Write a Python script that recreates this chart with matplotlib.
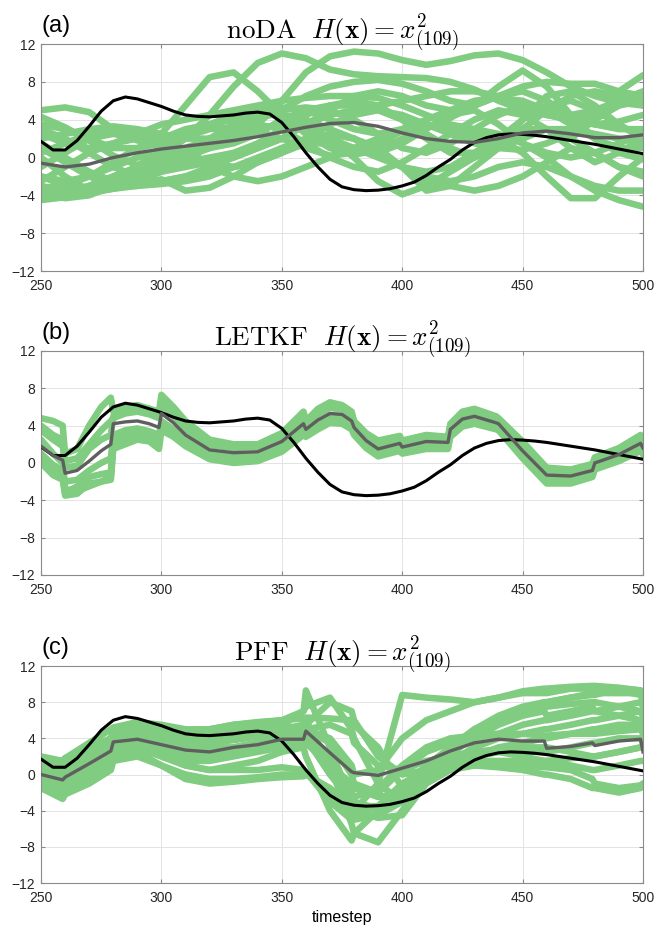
import numpy as np
import matplotlib
matplotlib.use("Agg")
import matplotlib.pyplot as plt

plt.rcParams.update({
    "font.family": ["Liberation Sans", "DejaVu Sans"],
    "mathtext.fontset": "cm",
})

# ── Data ──────────────────────────────────────────────────────────────────
# truth, every 5 timesteps from 250 to 500
truth_t = np.arange(250, 501, 5)
truth = [1.7, 0.8, 0.8, 1.8, 3.3, 4.9, 6.0, 6.4, 6.2, 5.8, 5.4, 4.9, 4.5, 4.35, 4.3,
         4.4, 4.5, 4.7, 4.8, 4.6, 3.7, 2.2, 0.5, -1.0, -2.3, -3.1, -3.4, -3.5, -3.45,
         -3.3, -3.0, -2.6, -1.9, -1.0, -0.2, 0.8, 1.6, 2.1, 2.4, 2.5, 2.45, 2.35, 2.2,
         2.0, 1.8, 1.6, 1.4, 1.15, 0.9, 0.65, 0.4]

# panel (a): noDA, every 10 timesteps
a_t = np.arange(250, 501, 10)
a_mean = [-0.6, -1.0, -0.7, 0.0, 0.5, 0.9, 1.2, 1.5, 1.8, 2.2, 2.7, 3.2, 3.6, 3.7,
          3.3, 2.6, 2.0, 1.7, 1.6, 2.0, 2.6, 2.8, 2.5, 2.1, 2.1, 2.4]
a_members = [
    [5.0, 5.3, 4.8, 3.0, 1.8, 1.5, 2.2, 3.0, 3.2, 2.8, 2.0, 1.0, 0.2, 0.5, 1.5, 2.8, 3.5, 3.0, 2.0, 1.0, 0.8, 1.5, 2.5, 4.0, 5.5, 6.0],
    [4.3, 3.2, 1.8, 0.2, -0.8, 0.3, 2.0, 4.5, 7.5, 10.0, 11.0, 10.5, 9.3, 8.8, 8.6, 8.5, 8.4, 8.0, 7.2, 6.0, 5.0, 4.5, 4.0, 3.5, 3.8, 4.5],
    [2.5, 1.5, 1.0, 1.5, 2.0, 2.5, 5.5, 8.5, 9.0, 7.0, 4.5, 2.5, 1.0, 0.3, 0.8, 2.0, 3.2, 4.2, 5.5, 7.5, 9.2, 7.5, 4.5, 2.0, 0.5, -0.2],
    [-2.0, -2.5, -2.0, -1.0, 0.0, 0.5, 0.5, 1.0, 2.0, 3.5, 6.0, 9.0, 10.7, 11.2, 11.0, 10.3, 9.8, 10.2, 10.8, 11.0, 10.3, 9.0, 7.5, 6.5, 5.8, 5.5],
    [-3.5, -3.8, -3.0, -2.0, -1.0, 0.0, 1.0, 2.0, 3.0, 4.0, 5.0, 6.5, 7.5, 8.0, 8.2, 7.8, 7.0, 6.0, 5.5, 6.5, 7.5, 8.0, 7.8, 7.8, 7.0, 6.5],
    [0.5, 1.5, 2.5, 3.0, 2.5, 1.5, 0.5, -0.5, -1.0, -0.5, 0.5, 2.0, 3.5, 4.5, 5.0, 4.5, 3.5, 2.5, 1.5, 1.0, 2.0, 3.0, 2.0, 4.0, 7.0, 8.7],
    [-4.2, -4.0, -3.5, -2.5, -1.5, -0.5, 0.5, 1.5, 2.5, 3.0, 3.5, 3.0, 2.0, 1.0, 0.5, 1.5, 3.0, 4.5, 5.0, 3.5, 1.5, 0.0, -2.0, -3.5, -4.5, -5.2],
    [-1.0, 0.5, 2.0, 2.5, 2.0, 1.0, 0.0, -1.0, -2.0, -2.5, -2.0, -1.0, 0.0, 1.0, 2.0, 3.0, 3.5, 3.0, 2.5, 2.0, 0.5, -2.0, -4.3, -4.3, -2.0, 0.0],
    [2.0, 2.5, 3.0, 3.3, 3.0, 2.5, 2.0, 2.0, 2.5, 3.0, 3.5, 3.5, 2.0, 0.0, -2.5, -3.9, -3.0, -1.5, 0.0, 1.5, 2.5, 3.0, 3.0, 2.5, 2.0, 1.5],
    [-3.0, -3.5, -3.0, -2.0, -1.0, 0.0, 0.5, 1.0, 1.5, 2.5, 4.0, 5.0, 5.5, 5.5, 5.0, 4.0, 2.5, 1.0, 0.0, 1.0, 3.0, 5.0, 6.5, 7.0, 6.5, 5.5],
    [-4.5, -4.2, -3.8, -3.3, -2.8, -2.3, -3.5, -3.2, -2.0, -0.5, 1.0, 2.0, 2.5, 2.0, 0.5, -1.0, -2.0, -2.5, -2.0, -1.0, -0.5, -1.0, -2.0, -3.0, -3.5, -3.5],
    [-3.8, -4.3, -4.0, -3.0, -2.0, -1.5, -1.0, -0.5, 0.0, 1.0, 2.0, 3.5, 4.5, 5.0, 5.5, 6.0, 6.5, 7.0, 7.0, 6.5, 5.5, 4.5, 4.0, 4.5, 5.5, 6.8],
    [-2.5, -1.0, 0.5, 1.5, 2.5, 3.5, 4.0, 4.5, 5.0, 5.5, 6.0, 6.3, 6.5, 6.5, 6.3, 5.5, 4.5, 3.5, 3.0, 2.5, 1.5, 0.5, 0.0, 0.5, 1.5, 2.5],
    [1.0, -0.5, -2.0, -3.0, -3.0, -2.5, -2.0, -1.5, -1.0, -0.5, 0.5, 1.5, 2.5, 2.0, 0.5, -1.0, -2.5, -3.0, -3.5, -3.0, -2.0, -0.5, 1.0, 0.5, -1.0, -2.0],
    [3.0, 2.0, 0.5, -1.0, -2.0, -2.5, -2.0, -1.0, 0.0, 1.0, 2.0, 3.5, 5.0, 6.5, 7.0, 6.5, 5.5, 5.0, 5.5, 6.5, 7.0, 6.0, 4.5, 3.5, 3.0, 3.0],
    [-3.2, -3.0, -2.0, -0.5, 1.0, 2.0, 3.0, 3.5, 4.0, 4.5, 4.5, 4.0, 3.0, 2.0, 1.0, -1.0, -3.5, -3.0, -1.0, 1.0, 4.0, 6.5, 7.0, 5.5, 3.5, 2.0],
    [0.0, -2.0, -3.5, -3.2, -2.5, -1.5, -0.5, 0.0, 0.5, 1.5, 3.0, 4.5, 5.5, 6.0, 5.5, 4.0, 2.0, 0.5, 0.5, 2.0, 4.0, 5.5, 6.0, 5.0, 3.5, 2.0],
    [-4.0, -3.8, -3.6, -3.3, -3.0, -2.8, -2.5, -2.0, -1.0, 0.0, 1.0, 1.5, 1.5, 1.0, 0.0, -1.0, -1.5, -1.0, 0.5, 2.0, 3.0, 3.0, 2.0, 0.5, -1.0, -1.5],
    [1.5, 0.0, -1.5, -2.5, -2.0, -1.0, 0.5, 2.0, 3.5, 4.5, 5.0, 5.3, 5.0, 4.0, 2.5, 1.0, 0.5, 1.5, 3.0, 4.5, 5.5, 5.0, 3.5, 2.0, 1.0, 1.0],
    [-2.0, -3.0, -3.3, -2.8, -2.0, -1.0, 0.0, 1.0, 2.5, 3.5, 3.0, 1.5, 0.0, -1.0, -1.5, -0.5, 1.0, 2.5, 4.0, 5.0, 4.5, 3.0, 1.0, -0.5, 0.5, 2.0],
    [3.5, 3.0, 2.0, 1.0, 1.0, 1.5, 2.5, 3.5, 4.5, 5.0, 5.3, 5.0, 4.0, 3.0, 2.5, 3.0, 4.0, 5.0, 6.0, 6.3, 6.0, 5.0, 4.5, 5.0, 6.0, 7.0],
]

# panel (b): LETKF, analysis jumps every 20 steps
b_t = [250, 255, 259, 260, 265, 270, 275, 279, 280, 285, 290, 295, 299, 300, 305, 310,
       320, 330, 340, 350, 359, 360, 365, 370, 375, 379, 380, 385, 390, 399, 400, 410,
       419, 420, 425, 430, 439, 440, 450, 460, 470, 479, 480, 490, 499, 500]
b_mean = [1.8, 0.8, 0.3, -1.1, -0.8, 0.2, 1.3, 2.0, 4.2, 4.4, 4.5, 4.2, 3.8, 5.3, 4.3, 3.0,
          1.4, 1.1, 1.2, 2.3, 4.2, 3.6, 4.6, 5.3, 5.2, 4.5, 3.8, 2.4, 1.5, 2.1, 1.7, 2.3,
          2.2, 3.6, 4.7, 5.0, 4.3, 4.2, 1.3, -1.3, -1.4, -0.8, 0.0, 0.9, 2.1, 1.6]
b_members = [
    [4.8, 4.5, 4.0, 1.0, 1.5, 4.0, 6.0, 7.0, 5.5, 6.0, 6.0, 5.8, 5.5, 7.3, 6.0, 4.5,
     2.5, 2.0, 2.0, 3.2, 5.5, 4.5, 5.8, 6.5, 6.2, 5.5, 4.5, 3.2, 2.4, 2.9, 2.4, 3.0,
     2.8, 4.2, 5.5, 5.8, 5.0, 4.8, 2.3, -0.5, -0.7, -0.1, 0.6, 1.6, 3.0, 2.3],
    [0.0, -1.3, -1.8, -3.5, -3.3, -2.2, -2.0, -1.8, 1.5, 2.0, 2.5, 2.3, 1.5, 3.5, 2.8, 1.8,
     0.4, 0.0, 0.2, 1.2, 3.0, 2.8, 3.6, 4.3, 4.2, 3.6, 3.0, 1.6, 0.7, 1.3, 1.0, 1.5,
     1.5, 2.8, 3.9, 4.2, 3.6, 3.5, 0.5, -2.2, -2.2, -1.5, -0.7, 0.2, 1.3, 0.9],
    [3.5, 2.5, 1.8, 0.2, 0.5, 2.0, 3.5, 4.5, 4.8, 5.3, 5.5, 5.2, 4.8, 6.3, 5.0, 3.6,
     1.9, 1.6, 1.7, 2.8, 4.8, 4.0, 5.2, 5.9, 5.7, 5.0, 4.2, 2.8, 2.0, 2.5, 2.1, 2.7,
     2.5, 3.9, 5.1, 5.4, 4.7, 4.5, 1.8, -0.9, -1.0, -0.4, 0.3, 1.3, 2.5, 1.9],
    [1.0, -0.2, -0.8, -2.0, -1.8, -0.8, 0.0, 0.5, 3.0, 3.5, 3.7, 3.4, 3.0, 4.5, 3.6, 2.4,
     0.9, 0.6, 0.7, 1.8, 3.6, 3.2, 4.1, 4.8, 4.7, 4.0, 3.4, 2.0, 1.1, 1.7, 1.4, 1.9,
     1.9, 3.2, 4.3, 4.6, 4.0, 3.9, 0.9, -1.7, -1.8, -1.2, -0.4, 0.5, 1.7, 1.3],
    [2.5, 1.0, 0.0, -2.8, -3.0, -2.5, -2.0, -1.5, 1.8, 2.5, 3.0, 2.8, 2.2, 4.0, 3.5, 2.6,
     1.0, 0.8, 0.9, 2.0, 4.0, 3.4, 4.4, 5.1, 5.0, 4.3, 3.6, 2.2, 1.3, 1.9, 1.5, 2.1,
     2.0, 3.4, 4.5, 4.8, 4.1, 4.0, 1.1, -1.5, -1.6, -1.0, -0.2, 0.7, 1.9, 1.4],
    [4.0, 3.0, 2.5, -0.5, -0.3, 1.5, 2.5, 3.0, 5.0, 6.0, 6.2, 5.8, 5.2, 6.8, 5.5, 4.0,
     2.2, 1.8, 1.9, 3.0, 5.2, 4.2, 5.5, 6.2, 6.0, 5.2, 4.4, 3.0, 2.2, 2.7, 2.2, 2.8,
     2.6, 4.0, 5.3, 5.6, 4.9, 4.6, 2.0, -0.7, -0.8, -0.2, 0.5, 1.5, 2.8, 2.1],
    [0.5, -0.8, -1.5, -3.2, -2.5, -1.5, -1.2, -1.0, 2.5, 3.0, 3.2, 2.9, 2.5, 4.0, 3.2, 2.0,
     0.6, 0.3, 0.4, 1.5, 3.3, 3.0, 3.9, 4.5, 4.4, 3.8, 3.2, 1.8, 0.9, 1.5, 1.2, 1.7,
     1.7, 3.0, 4.1, 4.4, 3.8, 3.7, 0.7, -2.0, -2.0, -1.3, -0.5, 0.4, 1.5, 1.1],
]

# panel (c): PFF
c_t = [250, 259, 260, 270, 279, 280, 290, 300, 310, 320, 330, 340, 350, 359, 360, 370,
       379, 380, 390, 400, 410, 420, 430, 440, 450, 459, 460, 470, 479, 480, 490, 499, 500]
c_mean = [0.0, -0.6, -0.3, 1.2, 2.6, 3.6, 3.9, 3.3, 2.7, 2.5, 3.0, 3.3, 3.9, 3.9, 4.8, 2.4,
          0.3, 0.2, -0.1, 0.7, 1.5, 2.6, 3.5, 3.9, 3.7, 3.7, 2.9, 3.1, 3.5, 3.2, 3.7, 3.9, 2.5]
c_members = [
    [1.5, 1.5, 1.8, 3.5, 5.0, 5.2, 5.8, 5.5, 5.0, 5.0, 5.5, 5.8, 6.0, 7.0, 9.3, 3.0, -3.0, -4.0, -1.0, 8.8, 8.5, 8.3, 8.0, 8.5, 9.2, 9.5, 9.5, 9.7, 9.8, 9.8, 9.6, 9.3, 9.0],
    [0.5, -0.5, -0.2, 1.5, 3.0, 4.0, 4.5, 4.0, 3.5, 3.5, 4.0, 4.5, 5.0, 5.5, 6.0, 1.0, -5.5, -6.5, -7.5, -4.0, 0.0, 1.5, 2.0, 2.5, 2.0, 1.5, 1.5, 1.0, 0.5, 0.5, 1.0, 1.5, 1.5],
    [-1.0, -2.0, -1.5, 0.0, 1.5, 2.5, 3.0, 2.0, 1.0, 0.5, 1.0, 1.5, 2.5, 3.0, 2.0, -4.0, -7.3, -6.5, -4.0, -1.5, 1.0, 3.0, 5.0, 6.5, 7.5, 8.0, 8.0, 8.5, 9.0, 9.0, 9.0, 9.0, 8.5],
    [2.0, 1.5, 1.8, 3.0, 4.0, 5.0, 5.5, 5.0, 4.8, 5.0, 5.5, 5.7, 6.0, 6.2, 6.3, 6.2, 6.0, 5.5, 3.0, -1.5, -0.5, 1.0, 2.0, 3.0, 3.5, 4.0, 4.0, 4.5, 5.0, 5.0, 5.5, 5.5, 5.0],
    [1.0, 0.5, 0.8, 2.5, 4.0, 4.5, 5.0, 4.5, 4.0, 4.0, 4.3, 4.8, 5.5, 7.0, 7.5, 8.5, 5.0, 4.0, -1.0, -3.0, 0.0, 3.0, 5.0, 6.0, 7.0, 7.5, 7.5, 7.8, 8.0, 8.0, 7.5, 7.0, 6.5],
    [-1.5, -2.7, -2.2, -1.0, 0.5, 1.5, 2.0, 1.0, 0.0, -0.5, -0.5, -0.3, 0.0, 0.0, 0.2, -2.0, -4.5, -5.0, -4.5, -3.0, -1.0, 0.5, 1.0, 1.0, 1.0, 0.8, 0.8, 0.5, -0.5, -1.0, -1.5, -1.2, -1.0],
    [0.0, -1.0, -0.8, 1.0, 2.5, 3.5, 4.0, 3.5, 2.5, 2.0, 2.5, 3.0, 3.5, 3.8, 4.0, 0.0, -3.0, -3.5, -3.5, -2.0, 0.5, 2.5, 4.0, 5.5, 6.5, 7.0, 6.5, 7.0, 7.5, 7.0, 7.5, 8.0, 7.5],
    [1.0, 0.0, 0.3, 2.0, 3.5, 4.2, 5.0, 4.5, 3.5, 3.0, 3.0, 3.5, 4.0, 4.2, 4.5, 2.0, -2.0, -2.5, -1.5, 1.0, 3.0, 4.0, 4.3, 4.5, 4.5, 4.3, 4.3, 4.5, 4.5, 4.5, 4.8, 5.0, 4.5],
    [-0.5, -1.5, -1.2, 0.5, 2.0, 3.0, 3.5, 2.5, 1.5, 1.5, 2.0, 2.5, 3.0, 3.2, 3.5, 1.0, -1.0, -1.5, -2.5, -2.0, 0.0, 1.5, 2.0, 2.5, 2.5, 2.5, 2.5, 3.0, 3.5, 3.5, 4.0, 4.0, 3.5],
    [-1.2, -2.0, -1.8, -0.5, 1.0, 2.0, 2.5, 1.0, -0.5, -1.0, -0.8, -0.5, -0.3, -0.2, 0.0, -1.5, -3.5, -4.0, -4.8, -4.5, -1.0, 2.0, 4.5, 6.0, 7.0, 8.0, 8.0, 8.5, 8.8, 8.8, 9.5, 9.3, 8.8],
    [0.5, -0.3, 0.0, 1.5, 3.0, 3.8, 4.5, 4.0, 3.0, 2.5, 3.0, 3.5, 4.0, 4.5, 5.5, 8.0, 7.0, 6.0, 2.0, 0.0, 0.5, 1.0, 1.5, 1.5, 1.5, 1.5, 1.5, 1.8, 2.0, 2.0, 2.5, 3.0, 3.0],
    [1.8, 1.0, 1.2, 2.5, 3.8, 4.5, 5.5, 5.0, 4.5, 4.5, 4.8, 5.2, 5.5, 5.0, 5.0, 4.0, 1.0, 0.0, 0.5, 4.0, 6.0, 7.0, 8.0, 8.5, 9.0, 9.0, 9.0, 9.5, 9.5, 9.5, 9.3, 8.8, 8.0],
    [-0.8, -1.8, -1.5, 0.0, 1.5, 2.5, 3.0, 2.0, 1.0, 0.5, 0.5, 0.5, 0.8, 0.5, 0.3, -3.0, -5.0, -4.5, -3.5, -1.0, 0.5, 0.8, 1.0, 0.8, 0.5, 0.0, 0.0, -0.5, -1.5, -1.5, -2.0, -1.5, -1.0],
    [0.8, 0.2, 0.5, 2.0, 3.2, 4.0, 4.8, 4.2, 3.8, 3.5, 3.8, 4.2, 4.5, 4.8, 5.0, 3.5, 0.0, -1.0, -2.0, 0.5, 2.5, 3.5, 4.0, 4.5, 5.5, 6.0, 6.0, 6.5, 7.0, 7.0, 6.5, 6.0, 5.5],
    [0.2, -0.8, -0.5, 1.0, 2.5, 3.3, 3.8, 3.0, 2.0, 1.8, 2.3, 2.8, 3.3, 3.5, 3.8, 0.5, -2.5, -3.0, -3.8, -2.5, -0.5, 1.5, 3.0, 4.0, 4.5, 5.0, 5.0, 5.5, 6.0, 6.0, 6.5, 7.0, 6.5],
    [1.2, 0.5, 0.8, 2.2, 3.5, 4.3, 5.2, 4.8, 4.0, 4.0, 4.3, 4.5, 4.8, 5.0, 5.0, 5.5, 4.5, 3.5, 1.0, 0.5, 1.5, 2.0, 2.5, 2.8, 3.0, 3.0, 3.0, 2.5, 2.0, 2.0, 2.5, 3.0, 3.0],
]

panels = [
    ("(a)", r"$\mathrm{noDA}\ \ H(\mathbf{x}) = x^2_{(109)}$", a_t, a_members, a_mean),
    ("(b)", r"$\mathrm{LETKF}\ \ H(\mathbf{x}) = x^2_{(109)}$", b_t, b_members, b_mean),
    ("(c)", r"$\mathrm{PFF}\ \ H(\mathbf{x}) = x^2_{(109)}$", c_t, c_members, c_mean),
]

GREEN = "#80cc80"
GREY = "#5f5f5f"

# axes boxes in figure fractions (left, bottom, width, height)
boxes = [
    (0.0615, 0.7070, 0.9025, 0.2454),
    (0.0615, 0.3784, 0.9025, 0.2422),
    (0.0615, 0.0454, 0.9025, 0.2346),
]

fig = plt.figure(figsize=(6.67, 9.25), dpi=100)

for (tag, title, t, members, mean), box in zip(panels, boxes):
    ax = fig.add_axes(box)
    for m in members:
        ax.plot(t, m, color=GREEN, linewidth=4.7, solid_joinstyle="round",
                solid_capstyle="round", zorder=2)
    ax.plot(truth_t, truth, color="black", linewidth=2.2, zorder=3)
    ax.plot(t, mean, color=GREY, linewidth=2.4, zorder=4)

    ax.set_xlim(250, 500)
    ax.set_ylim(-12, 12)
    ax.set_xticks([250, 300, 350, 400, 450, 500])
    ax.set_yticks([-12, -8, -4, 0, 4, 8, 12])
    ax.grid(True, color="#e3e3e3", linewidth=0.7)
    ax.set_axisbelow(True)
    ax.tick_params(direction="in", length=3, top=True, right=True,
                   labelsize=10, colors="#888888", labelcolor="#262626")
    ax.tick_params(axis="x", pad=6)
    ax.tick_params(axis="y", pad=4)
    for s in ax.spines.values():
        s.set_color("#8a8a8a")
        s.set_linewidth(0.8)

    ax.set_title(title, fontsize=19.5, pad=3)
    ax.text(0.0, 1.03, tag, transform=ax.transAxes, fontsize=17,
            ha="left", va="bottom")

ax.set_xlabel("timestep", fontsize=11.5, labelpad=3)

fig.savefig("out.png", dpi=100)
